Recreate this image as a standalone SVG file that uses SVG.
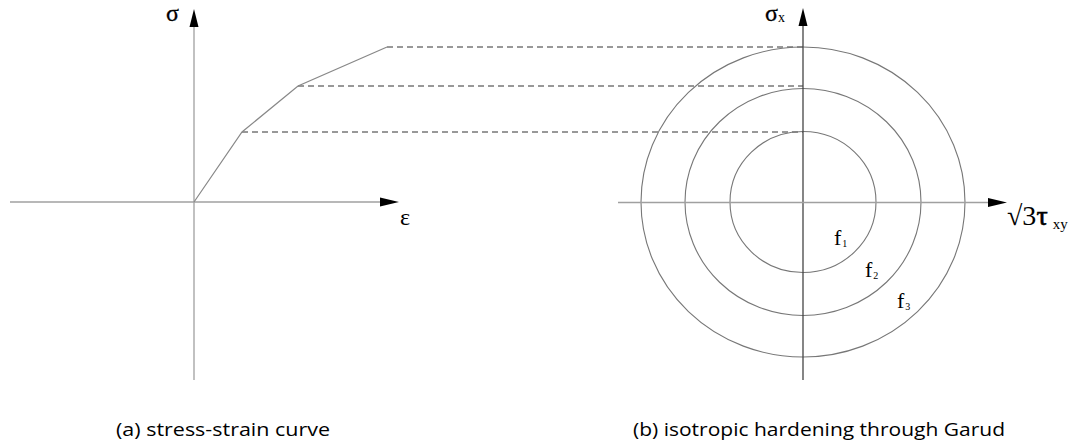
<svg xmlns="http://www.w3.org/2000/svg" width="1082" height="448" viewBox="0 0 1082 448">
<style>
.axis{stroke:#a0a0a0;stroke-width:1.3;fill:none}
.axisd{stroke:#444;stroke-width:1.3;fill:none}
.curve{stroke:#888;stroke-width:1.2;fill:none}
.dash{stroke:#333;stroke-width:1;stroke-dasharray:6,4;fill:none}
.circ{stroke:#777;stroke-width:1.1;fill:none}
.sym{font-family:"Liberation Serif","DejaVu Serif",serif;fill:#000}
.cap{font-family:"Open Sans","Liberation Sans",sans-serif;font-size:19px;fill:#000}
.head{fill:#000}
</style>
<rect width="1082" height="448" fill="#fff"/>
<g id="connectors">
  <line class="dash" x1="387" y1="47" x2="803" y2="47"/>
  <line class="dash" x1="298" y1="86" x2="803" y2="86"/>
  <line class="dash" x1="242" y1="132" x2="803" y2="132"/>
</g>
<g id="plot-a">
  <line class="axis" x1="194" y1="24" x2="194" y2="380"/>
  <line class="axis" x1="10" y1="202" x2="382" y2="202"/>
  <polygon class="head" points="194,9 189.5,27 198.5,27"/>
  <polygon class="head" points="399,202 380,197.5 380,206.5"/>
  <polyline class="curve" points="194,202 242,132 298,86 387,47"/>
  <text class="sym" x="166" y="21" font-size="24" stroke="#000" stroke-width="0.3">σ</text>
  <text class="sym" x="400" y="225" font-size="24">ε</text>
</g>
<g id="plot-b">
  <ellipse class="circ" cx="803" cy="202" rx="73" ry="70.5"/>
  <ellipse class="circ" cx="803" cy="202" rx="118" ry="113.5"/>
  <ellipse class="circ" cx="803" cy="202" rx="162" ry="155"/>
  <line class="axisd" x1="803" y1="24" x2="803" y2="380"/>
  <line class="axis" x1="618" y1="202.5" x2="990" y2="202.5"/>
  <polygon class="head" points="803,8 798.5,26 807.5,26"/>
  <polygon class="head" points="1007,202.5 988,198 988,207"/>
  <text class="sym" x="765" y="21" font-size="24"><tspan stroke="#000" stroke-width="0.3">σ</tspan><tspan font-size="14" dy="1">x</tspan></text>
  <text class="sym" x="1007" y="225" font-size="28">√3<tspan stroke="#000" stroke-width="0.6">τ</tspan><tspan font-size="15" dx="5" dy="4">xy</tspan></text>
  <text class="sym" x="834" y="245" font-size="22">f<tspan font-size="10" dx="1" dy="2">1</tspan></text>
  <text class="sym" x="865" y="277" font-size="22">f<tspan font-size="10" dx="1" dy="2">2</tspan></text>
  <text class="sym" x="897" y="308" font-size="22">f<tspan font-size="10" dx="1" dy="2">3</tspan></text>
</g>
<g id="captions">
  <text class="cap" x="116" y="436" textLength="214" lengthAdjust="spacingAndGlyphs">(a) stress-strain curve</text>
  <text class="cap" x="633" y="436" textLength="372" lengthAdjust="spacingAndGlyphs">(b) isotropic hardening through Garud</text>
</g>
</svg>
